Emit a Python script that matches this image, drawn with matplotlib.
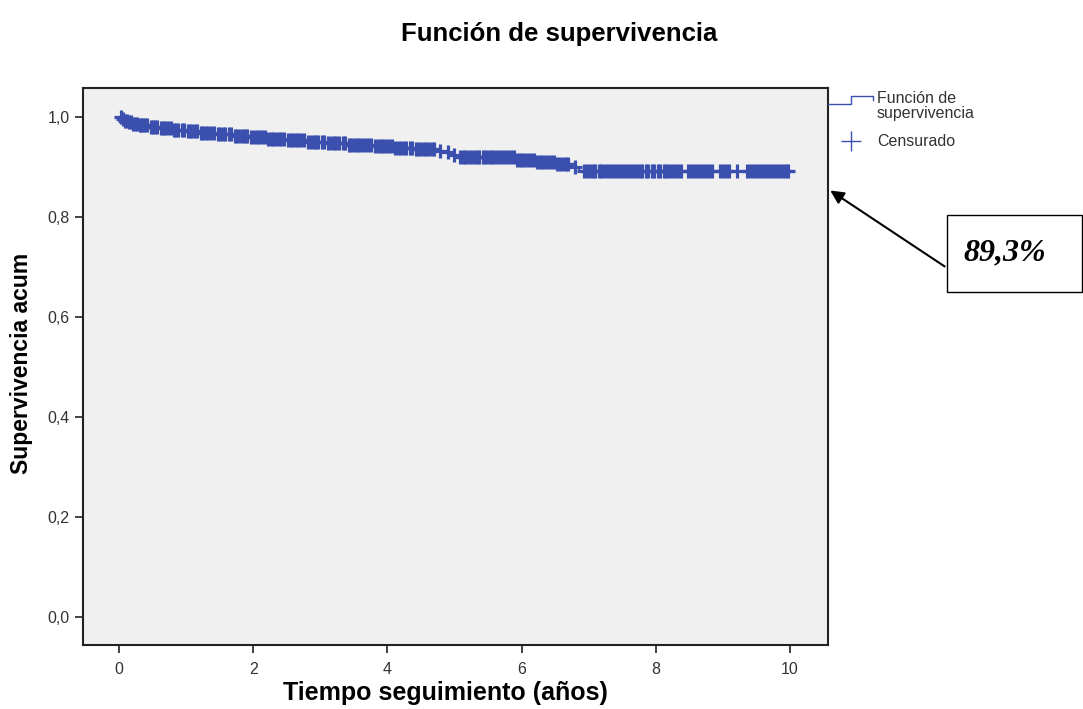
import numpy as np
import matplotlib.pyplot as plt
from matplotlib.lines import Line2D
from matplotlib.patches import Rectangle

# Kaplan-Meier step estimate: event times (years) and cumulative survival
event_times = [0.0, 0.04, 0.08, 0.13, 0.2, 0.3, 0.45, 0.6, 0.8, 1.0, 1.2, 1.45,
               1.7, 1.95, 2.2, 2.5, 2.8, 3.1, 3.4, 3.8, 4.1, 4.4, 4.75, 4.85,
               4.95, 5.05, 5.9, 6.2, 6.5, 6.75, 6.85]
survival = [1.0, 0.996, 0.993, 0.990, 0.987, 0.984, 0.981, 0.978, 0.975, 0.972,
            0.969, 0.966, 0.963, 0.960, 0.957, 0.954, 0.951, 0.948, 0.945, 0.942,
            0.939, 0.936, 0.933, 0.930, 0.925, 0.920, 0.915, 0.911, 0.906, 0.900,
            0.893]
end_time = 10.0

# censored follow-up times (years)
censored = [0.02, 0.05, 0.09, 0.11, 0.15, 0.17, 0.21, 0.24, 0.27, 0.31, 0.33,
            0.36, 0.39, 0.42, 0.47, 0.5, 0.53, 0.57, 0.62, 0.65, 0.69, 0.73,
            0.77, 0.82, 0.85, 0.88, 0.93, 0.96, 1.02, 1.05, 1.09, 1.13, 1.16,
            1.22, 1.25, 1.29, 1.33, 1.37, 1.41, 1.47, 1.51, 1.55, 1.58, 1.63,
            1.66, 1.72, 1.76, 1.8, 1.84, 1.88, 1.91, 1.97, 2.01, 2.05, 2.09,
            2.13, 2.17, 2.22, 2.26, 2.3, 2.34, 2.38, 2.42, 2.46, 2.52, 2.56,
            2.59, 2.63, 2.67, 2.71, 2.75, 2.82, 2.86, 2.9, 2.93, 2.97, 3.02,
            3.05, 3.12, 3.16, 3.2, 3.24, 3.28, 3.33, 3.37, 3.42, 3.46, 3.5,
            3.54, 3.58, 3.62, 3.66, 3.71, 3.75, 3.82, 3.86, 3.9, 3.94, 3.98,
            4.03, 4.07, 4.12, 4.16, 4.2, 4.24, 4.28, 4.33, 4.37, 4.42, 4.46,
            4.5, 4.54, 4.58, 4.62, 4.66, 4.7, 4.79, 4.9, 5.0, 5.08, 5.12,
            5.16, 5.2, 5.25, 5.29, 5.33, 5.37, 5.42, 5.46, 5.5, 5.54, 5.58,
            5.62, 5.67, 5.71, 5.75, 5.8, 5.84, 5.88, 5.93, 5.97, 6.01, 6.05,
            6.1, 6.14, 6.18, 6.23, 6.27, 6.31, 6.35, 6.4, 6.44, 6.48, 6.53,
            6.57, 6.62, 6.66, 6.7, 6.8, 6.93, 6.97, 7.02, 7.06, 7.1, 7.15,
            7.19, 7.23, 7.28, 7.32, 7.36, 7.41, 7.45, 7.5, 7.54, 7.58, 7.63,
            7.67, 7.72, 7.76, 7.8, 7.85, 7.89, 7.94, 7.98, 8.03, 8.07, 8.12,
            8.16, 8.2, 8.25, 8.29, 8.34, 8.38, 8.48, 8.53, 8.57, 8.62, 8.66,
            8.71, 8.75, 8.8, 8.84, 8.96, 9.0, 9.05, 9.09, 9.22, 9.36, 9.4,
            9.45, 9.49, 9.54, 9.58, 9.63, 9.67, 9.72, 9.76, 9.81, 9.85, 9.9,
            9.94, 9.98]

blue = '#3a4fae'
sans = ['Liberation Sans', 'DejaVu Sans']

W, H = 1083, 709
fx = lambda px: px / W
fy = lambda py: 1 - py / H

fig = plt.figure(figsize=(10.83, 7.09), dpi=100)
ax = fig.add_axes([83 / W, 1 - 645 / H, 745 / W, 557 / H])
ax.set_facecolor('#f0f0f0')

# survival curve as a step function
xs = list(event_times) + [end_time]
ys = list(survival) + [survival[-1]]
ax.step(xs, ys, where='post', color=blue, lw=1.4)

# censoring marks sit on the curve
idx = np.searchsorted(event_times, censored, side='right') - 1
cy = np.array(survival)[idx]
ax.plot(censored, cy, ls='none', marker='+', ms=10, mew=2.3, color=blue)

ax.set_xlim(-0.54, 10.57)
ax.set_ylim(-0.056, 1.058)
ax.set_xticks([0, 2, 4, 6, 8, 10])
ax.set_yticks([0.0, 0.2, 0.4, 0.6, 0.8, 1.0])
ax.set_yticklabels(['0,0', '0,2', '0,4', '0,6', '0,8', '1,0'])
ax.tick_params(direction='out', length=6, width=1.2, labelsize=11.5,
               colors='#222222')
ax.tick_params(axis='x', pad=6)
for lab in ax.get_xticklabels() + ax.get_yticklabels():
    lab.set_family(sans)
    lab.set_color('#333333')
for s in ax.spines.values():
    s.set_linewidth(1.5)
    s.set_color('#222222')

ax.set_xlabel('Tiempo seguimiento (años)', fontsize=18, fontweight='bold',
              family=sans, va='center')
ax.xaxis.set_label_coords((445 - 83) / 745, (645 - 693) / 557)
ax.set_ylabel('Supervivencia acum', fontsize=16.5, fontweight='bold',
              family=sans, va='center')
ax.yaxis.set_label_coords((22 - 83) / 745, (645 - 363) / 557)
fig.text(fx(559), fy(34), 'Función de supervivencia', ha='center',
         va='center', fontsize=18.5, fontweight='bold', family=sans)

# legend drawn to the right of the plot area
fig.add_artist(Line2D([fx(828), fx(851), fx(851), fx(873), fx(873)],
                      [fy(104), fy(104), fy(96), fy(96), fy(100)],
                      color=blue, lw=1.0))
fig.text(fx(877), fy(106), 'Función de\nsupervivencia', fontsize=11.5,
         va='center', ha='left', linespacing=0.95, color='#333333', family=sans)
fig.add_artist(Line2D([fx(851)], [fy(141)], marker='+', ms=14, mew=1.0,
                      color=blue, ls='none'))
fig.text(fx(877), fy(141), 'Censurado', fontsize=11.5, va='center', ha='left',
         color='#333333', family=sans)

# annotation box with final survival
fig.add_artist(Rectangle((fx(947), fy(292)), fx(1082) - fx(947), fy(215) - fy(292),
                         fill=False, ec='black', lw=1.0, transform=fig.transFigure))
fig.text(fx(1005), fy(253), '89,3%', fontsize=23, fontweight='bold',
         fontstyle='italic', family='Liberation Serif', ha='center', va='center')
ax.annotate('', xy=(fx(828), fy(189)), xycoords='figure fraction',
            xytext=(fx(947), fy(268)), textcoords='figure fraction',
            arrowprops=dict(arrowstyle='-|>', color='black', lw=1.5,
                            mutation_scale=20))

fig.savefig('out.png', dpi=100)
